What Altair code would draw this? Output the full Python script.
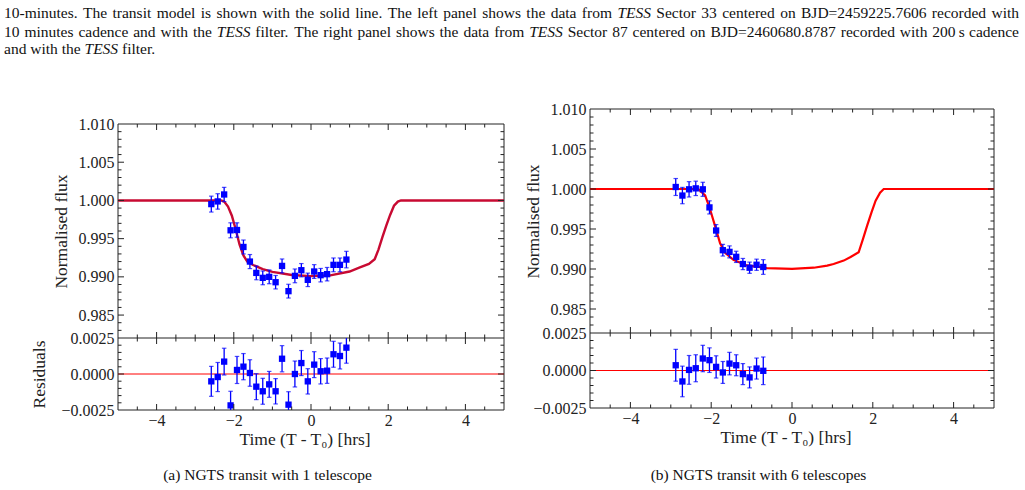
import altair as alt
import pandas as pd

SERIF = "Liberation Serif"
BLUE = "#0000ff"
INK = "#222222"

# ---------------- data ----------------
left_time = [-2.583, -2.417, -2.250, -2.083, -1.917, -1.750, -1.583, -1.417, -1.250, -1.083, -0.917,
             -0.750, -0.583, -0.417, -0.250, -0.083, 0.083, 0.250, 0.417, 0.583, 0.750, 0.917]
left_flux = [0.99952, 0.99987, 1.00078, 0.99609, 0.99613, 0.99391, 0.99200, 0.99052, 0.98987, 0.99000, 0.98930,
             0.99143, 0.98813, 0.99013, 0.99087, 0.98961, 0.99070, 0.99022, 0.99035, 0.99157, 0.99157, 0.99226]
left_resid = [-0.00051, -0.00021, 0.00086, -0.00218, 0.00028, 0.00051, 0.00007, -0.00088, -0.00120, -0.00072, -0.00120,
              0.00106, -0.00213, 0.00000, 0.00076, -0.00051, 0.00065, 0.00019, 0.00023, 0.00137, 0.00125, 0.00183]
left_err = [0.00104, 0.00101, 0.00093, 0.00098, 0.00094, 0.00091, 0.00092, 0.00090, 0.00090, 0.00090, 0.00088,
            0.00091, 0.00090, 0.00090, 0.00087, 0.00088, 0.00090, 0.00088, 0.00088, 0.00090, 0.00090, 0.00108]

left_model_time = [-5.0, -2.33, -2.25, -2.15, -2.05, -1.95, -1.85, -1.75, -1.65, -1.5, -1.25, -1.0, -0.5,
                   0.0, 0.5, 1.0, 1.25, 1.5, 1.65, 1.75, 1.85, 1.95, 2.05, 2.15, 2.25, 2.33, 5.0]
left_model_flux = [1.0, 1.0, 0.99985, 0.9992, 0.9980, 0.9962, 0.9942, 0.9928, 0.9920, 0.99155, 0.99100, 0.99065, 0.99025,
                   0.99010, 0.99020, 0.99070, 0.99120, 0.99170, 0.9923, 0.9936, 0.9952, 0.9967, 0.9981, 0.9993, 0.99985, 1.0, 1.0]

right_time = [-2.878, -2.713, -2.548, -2.382, -2.208, -2.043, -1.878, -1.712, -1.547, -1.381, -1.216, -1.050, -0.877, -0.711]
right_flux = [1.00025, 0.99918, 0.99996, 1.00008, 0.99996, 0.99770, 0.99481, 0.99235, 0.99214, 0.99152, 0.99062,
              0.99016, 0.99053, 0.99025]
right_resid = [0.00035, -0.00073, 0.00004, 0.00015, 0.00080, 0.00069, 0.00024, -0.00013, 0.00046, 0.00035, -0.00024,
               -0.00046, 0.00013, -0.00002]
right_err = [0.00106, 0.00102, 0.00096, 0.00090, 0.00088, 0.00082, 0.00074, 0.00073, 0.00075, 0.00070, 0.00070,
             0.00070, 0.00070, 0.00092]

right_model_time = [-5.0, -2.32, -2.15, -2.03, -1.90, -1.78, -1.65, -1.45, -1.12, -0.62, 0.0, 0.54, 0.87, 1.03,
                    1.28, 1.45, 1.65, 1.76, 1.86, 1.97, 2.07, 2.18, 2.27, 5.0]
right_model_flux = [1.0, 1.0, 0.9992, 0.9975, 0.9953, 0.9932, 0.9920, 0.99115, 0.99045, 0.99012, 0.99002, 0.99016,
                    0.99042, 0.99062, 0.99105, 0.99150, 0.99209, 0.9938, 0.99542, 0.9971, 0.99854, 0.99955, 1.0, 1.0]

# tick positions / labels
x_major = [-4, -2, 0, 2, 4]
x_minor = [-4.5, -3.5, -3, -2.5, -1.5, -1, -0.5, 0.5, 1, 1.5, 2.5, 3, 3.5, 4.5]
flux_labels = [0.985, 0.990, 0.995, 1.000, 1.005, 1.010]
flux_major = [0.985, 0.990, 0.995, 1.000, 1.005]
flux_minor = [0.983, 0.984, 0.986, 0.987, 0.988, 0.989, 0.991, 0.992, 0.993, 0.994, 0.996, 0.997, 0.998, 0.999,
              1.001, 1.002, 1.003, 1.004, 1.006, 1.007, 1.008, 1.009]
res_labels = [-0.0025, 0.0, 0.0025]
res_major = [0.0]
res_minor = [-0.002, -0.0015, -0.001, -0.0005, 0.0005, 0.001, 0.0015, 0.002]

FLUX_DOMAIN = [0.982, 1.010]
RES_DOMAIN = [-0.0025, 0.0025]

# caption text (words wrapped in * are italic)
caption_lines = [
    "10-minutes. The transit model is shown with the solid line. The left panel shows the data from *TESS* Sector 33 centered on BJD=2459225.7606 recorded with",
    "10 minutes cadence and with the *TESS* filter. The right panel shows the data from *TESS* Sector 87 centered on BJD=2460680.8787 recorded with 200\u2009s cadence",
    "and with the *TESS* filter.",
]
subcaption_left = "(a) NGTS transit with 1 telescope"
subcaption_right = "(b) NGTS transit with 6 telescopes"

XS = alt.Scale(domain=[-5, 5], nice=False, zero=False)

# Times / Liberation Serif advance widths (per 1000 em)
_W = {" ": 250, "\u2009": 167, "-": 333, ".": 250, "=": 564, ",": 250, "(": 333, ")": 333,
      "0": 500, "1": 500, "2": 500, "3": 500, "4": 500, "5": 500, "6": 500, "7": 500, "8": 500, "9": 500,
      "A": 722, "B": 667, "C": 667, "D": 722, "E": 611, "F": 556, "G": 722, "H": 722, "I": 333, "J": 389,
      "K": 722, "L": 611, "M": 889, "N": 722, "O": 722, "P": 556, "Q": 722, "R": 667, "S": 556, "T": 611,
      "U": 722, "V": 722, "W": 944, "X": 722, "Y": 722, "Z": 611,
      "a": 444, "b": 500, "c": 444, "d": 500, "e": 444, "f": 333, "g": 500, "h": 500, "i": 278, "j": 278,
      "k": 500, "l": 278, "m": 778, "n": 500, "o": 500, "p": 500, "q": 500, "r": 333, "s": 389, "t": 278,
      "u": 500, "v": 500, "w": 722, "x": 500, "y": 500, "z": 444}
_WI = {"T": 556, "E": 611, "S": 500}


def text_width(s, fs, italic=False):
    tab = dict(_W)
    if italic:
        tab.update(_WI)
    return sum(tab.get(ch, 500) for ch in s) * fs / 1000.0


CAP_FS = 15.5
ONE = pd.DataFrame({"v": [0]})


def caption_layers(dx, dy):
    layers = []
    baselines = [17, 35.5, 53]
    for li, line in enumerate(caption_lines):
        items = []
        for w in line.split(" "):
            it = w.startswith("*") and w.endswith("*")
            t = w.strip("*")
            items.append((t, it, text_width(t, CAP_FS, it)))
        if li < 2:
            gap = (1018 - 3 - sum(i[2] for i in items)) / (len(items) - 1)
        else:
            gap = 0.25 * CAP_FS
        x = 3
        for t, it, wdt in items:
            layers.append(alt.Chart(pd.DataFrame({"c": [t]})).mark_text(
                font=SERIF, fontSize=CAP_FS, align="left", baseline="alphabetic",
                fontStyle="italic" if it else "normal", color="#111111").encode(
                text="c:N", x=alt.value(x - dx), y=alt.value(baselines[li] - dy)))
            x += wdt + gap
    return layers


def prule(x0, x1, y0, y1, color=INK, width=1):
    return alt.Chart(ONE).mark_rule(color=color, strokeWidth=width).encode(
        x=alt.value(x0), x2=alt.value(x1), y=alt.value(y0), y2=alt.value(y1))


def column(time, flux, resid, err, mtime, mflux, mcolor, mwidth, W, T0, D, H,
           res_title, ytitle_x, subcap, subx, suby, extra):
    """One column: flux panel from y=T0 to y=D, residual panel from y=D to y=H (pixels in this chart)."""
    YT = alt.Scale(domain=FLUX_DOMAIN, range=[D, T0], nice=False, zero=False)
    YR = alt.Scale(domain=RES_DOMAIN, range=[H, D], nice=False, zero=False, clamp=True)
    ax_x = alt.Axis(values=x_major, format="d", title="Time (T - T\u2080) [hrs]", labelPadding=2,
                    titleX=W / 2 - 6.5, titleY=29.5, titleBaseline="middle")
    ax_top = alt.Axis(orient="left", values=flux_labels, format=".3f", title="Normalised flux", labelPadding=4,
                      titleX=ytitle_x, titleY=(T0 + D) / 2, titleBaseline="middle", titleAlign="center")
    ax_res = alt.Axis(orient="left", values=res_labels, format=".4f", title=res_title, labelPadding=4,
                      titleX=-79, titleY=(D + H) / 2, titleBaseline="middle", titleAlign="center")
    X = alt.X("time:Q", scale=XS, axis=ax_x)

    df = pd.DataFrame({"time": time, "flux": flux, "resid": resid, "err": err})
    model = pd.DataFrame({"time": mtime, "flux": mflux})
    layers = list(extra)

    # frame
    layers += [prule(0, W, T0, T0), prule(0, W, H, H), prule(0, 0, T0, H), prule(W, W, T0, H), prule(0, W, D, D)]

    # residual zero line
    layers.append(alt.Chart(pd.DataFrame({"z": [0.0]})).mark_rule(color="#ff0000", strokeWidth=1).encode(
        y=alt.Y("z:Q", scale=YR, axis=ax_res)))

    # model
    layers.append(alt.Chart(model).mark_line(color=mcolor, strokeWidth=mwidth).encode(
        x=X, y=alt.Y("flux:Q", scale=YT, axis=ax_top)))

    # data with error bars, both panels
    for ycol, sc in (("flux", YT), ("resid", YR)):
        dom = FLUX_DOMAIN if ycol == "flux" else RES_DOMAIN
        d = df.assign(lo=df[ycol] - df["err"], hi=df[ycol] + df["err"])
        layers.append(alt.Chart(d).mark_rule(color=BLUE, strokeWidth=1.3).encode(
            x=X, y=alt.Y("lo:Q", scale=sc, axis=None), y2="hi:Q"))
        for end in ("lo", "hi"):
            layers.append(alt.Chart(d).transform_filter(
                (alt.datum[end] >= dom[0]) & (alt.datum[end] <= dom[1])).mark_tick(
                orient="horizontal", color=BLUE, size=4.5, thickness=1.2).encode(
                x=X, y=alt.Y(f"{end}:Q", scale=sc, axis=None)))
        layers.append(alt.Chart(d).mark_square(color=BLUE, size=40, opacity=1).encode(
            x=X, y=alt.Y(f"{ycol}:Q", scale=sc, axis=None)))

    # inward ticks on every side of both panels
    for vals, ln in ((x_major, 6), (x_minor, 3.5)):
        d = pd.DataFrame({"t": vals})
        for y0, y1 in ((T0, T0 + ln), (D, D - ln), (D, D + ln), (H, H - ln)):
            layers.append(alt.Chart(d).mark_rule(color=INK, strokeWidth=1).encode(
                x=alt.X("t:Q", scale=XS, axis=ax_x), y=alt.value(y0), y2=alt.value(y1)))
    for sc, maj, mnr in ((YT, flux_major, flux_minor), (YR, res_major, res_minor)):
        for vals, ln in ((maj, 6), (mnr, 3.5)):
            d = pd.DataFrame({"t": vals})
            for x0, x1 in ((0, ln), (W, W - ln)):
                layers.append(alt.Chart(d).mark_rule(color=INK, strokeWidth=1).encode(
                    y=alt.Y("t:Q", scale=sc, axis=None), x=alt.value(x0), x2=alt.value(x1)))

    # sub-caption
    layers.append(alt.Chart(pd.DataFrame({"c": [subcap]})).mark_text(
        font=SERIF, fontSize=CAP_FS, align="center", baseline="alphabetic", color="#111111").encode(
        text="c:N", x=alt.value(subx), y=alt.value(suby)))

    return alt.layer(*layers).resolve_scale(y="independent").properties(
        width=W, height=H, view=alt.ViewBackground(stroke="transparent"))


# left column origin on the page: (117, 108); right column origin: (589, 108)
anchor = alt.Chart(ONE).mark_rect(fill="white", opacity=0).encode(
    x=alt.value(-117), x2=alt.value(-110), y=alt.value(-108), y2=alt.value(-100))
left = column(left_time, left_flux, left_resid, left_err, left_model_time, left_model_flux,
              "#c80a32", 2.4, 386, 15, 229, 301, "Residuals", -57, subcaption_left, 149.5, 371,
              [anchor] + caption_layers(117, 108))
right = column(right_time, right_flux, right_resid, right_err, right_model_time, right_model_flux,
               "#ff0000", 2.2, 404, 0, 224, 299, "", -57, subcaption_right, 168.5, 371, [])

chart = alt.hconcat(left, right, spacing=86, bounds="flush", padding=0, background="white").configure_axis(
    labelFont=SERIF, titleFont=SERIF, labelColor=INK, titleColor=INK, labelFontSize=16, titleFontSize=17.5,
    titleFontWeight="normal", grid=False, domain=False, ticks=False, tickSize=0)

chart.save("out.html", embed_options={"renderer": "svg", "actions": False})
